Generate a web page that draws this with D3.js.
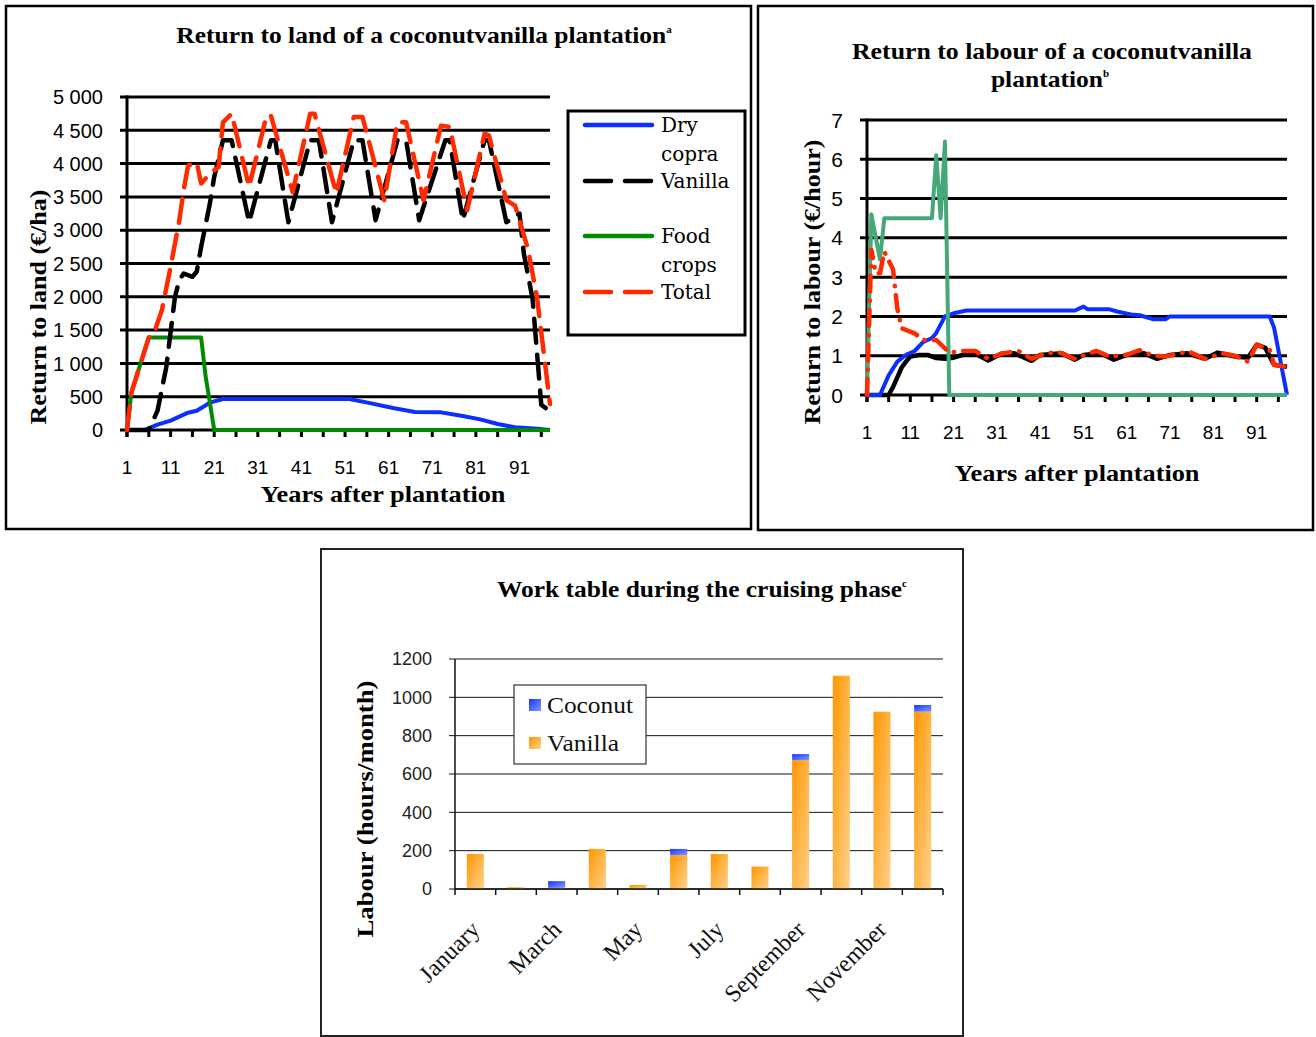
<!DOCTYPE html>
<html>
<head>
<meta charset="utf-8">
<script src="https://cdn.jsdelivr.net/npm/d3@7"></script>
<style>
  body { margin: 0; background: #fff; }
  svg { display: block; }
</style>
</head>
<body>
<svg id="fig"></svg>
<script>
// ---- Data ---------------------------------------------------------------
// Breakpoints of each series as [year after plantation, value]

// Return to land (EUR/ha)
const landCopra = [[1, 0], [5, 0], [8, 80], [11, 140], [15, 260], [17, 290], [20, 410], [23, 465],
  [52, 465], [57, 400], [62, 330], [67, 270], [73, 265], [78, 210], [82, 160], [86, 90],
  [90, 40], [95, 20], [98, 0]]
const landVanilla = [[1, 0], [6, 0], [8, 290], [10, 940], [12, 2000], [13, 2250], [14, 2350],
  [16, 2300], [17, 2380], [18, 2750], [20, 3400], [21, 3800], [23, 4350], [25, 4350], [29, 3120],
  [34, 4350], [35, 4350], [38, 3120], [43, 4350], [45, 4350], [48, 3120], [53, 4350], [55, 4350],
  [58, 3150], [63, 4350], [65, 4350], [68, 3150], [74, 4350], [75, 4350], [78, 3150], [83, 4350],
  [84, 4350], [88, 3120], [91, 3250], [92, 2650], [94, 1970], [96, 380], [97, 330]]
const landFood = [[1, 0], [2, 560], [6, 1390], [18, 1390], [19, 820], [21, 0], [98, 0]]
const landTotal = [[1, 0], [2, 560], [6, 1390], [7, 1420], [9, 1800], [11, 2450], [13, 3150],
  [14, 3600], [15, 3970], [17, 4020], [18, 3700], [20, 3850], [22, 3950], [23, 4620], [25, 4750],
  [29, 3650], [33, 4720], [34, 4720], [39, 3570], [43, 4750], [44, 4750], [49, 3550], [53, 4700],
  [55, 4700], [60, 3450], [63, 4620], [65, 4620], [69, 3450], [73, 4570], [75, 4550], [79, 3300],
  [83, 4450], [84, 4420], [88, 3450], [90, 3370], [93, 2700], [95, 2000], [98, 390]]

// Return to labour (EUR/hour)
const labourCopra = [[1, 0], [4, 0], [6, 0.5], [8, 0.85], [10, 1.02], [12, 1.12], [14, 1.35],
  [16, 1.45], [17, 1.58], [19, 2.0], [21, 2.08], [24, 2.15], [49, 2.15], [51, 2.25], [52, 2.18],
  [57, 2.18], [59, 2.12], [62, 2.05], [64, 2.03], [67, 1.93], [70, 1.93], [71, 2.0], [94, 2.0],
  [95, 1.72], [98, 0]]
const labourVanilla = [[1, 0], [6, 0], [7, 0.2], [8, 0.45], [9, 0.7], [10, 0.85], [11, 0.98],
  [13, 1.02], [15, 1.02], [17, 0.94], [19, 0.92], [21, 0.95], [24, 1.05], [26, 1.05], [29, 0.88],
  [32, 1.05], [35, 1.06], [39, 0.87], [41, 1.02], [46, 1.06], [49, 0.9], [51, 1.02], [55, 1.06],
  [58, 0.9], [61, 1.02], [65, 1.06], [68, 0.92], [71, 1.02], [75, 1.06], [79, 0.92], [82, 1.08],
  [86, 0.98], [89, 0.95], [91, 1.28], [93, 1.2], [95, 0.77], [98, 0.72]]
const labourFood = [[1, 0], [2, 4.6], [4, 3.45], [5, 4.5], [16, 4.5], [17, 6.1], [18, 4.5],
  [19, 6.45], [20, 0], [98, 0]]
const labourTotal = [[1, 0], [2, 3.7], [3, 3.1], [4, 3.1], [5, 3.65], [7, 3.2], [8, 2.2], [9, 1.7],
  [12, 1.57], [14, 1.4], [17, 1.4], [20, 1.08], [23, 1.12], [26, 1.12], [29, 0.92], [32, 1.05],
  [36, 1.12], [39, 0.92], [42, 1.05], [45, 1.1], [49, 0.92], [52, 1.05], [54, 1.12], [57, 0.98],
  [61, 1.02], [64, 1.14], [67, 1.0], [70, 0.98], [74, 1.08], [75, 1.12], [79, 0.92], [83, 1.06],
  [86, 1.0], [89, 0.85], [91, 1.28], [94, 1.15], [95, 0.77], [98, 0.72]]

// Work table (hours/month)
const months = ["January", "February", "March", "April", "May", "June", "July", "August",
  "September", "October", "November", "December"]
const vanillaHours = [183, 9, 6, 209, 21, 177, 183, 117, 673, 1113, 925, 925]
const coconutHours = [0, 0, 35, 0, 0, 32, 0, 0, 31, 0, 0, 35]

// Ticks
const landTicks = [0, 500, 1000, 1500, 2000, 2500, 3000, 3500, 4000, 4500, 5000]
const labourTicks = [0, 1, 2, 3, 4, 5, 6, 7]
const hoursTicks = [0, 200, 400, 600, 800, 1000, 1200]
const yearLabels = [1, 11, 21, 31, 41, 51, 61, 71, 81, 91]

// ---- Setup ----------------------------------------------------------------
const SERIF = "'Liberation Serif', 'Times New Roman', serif"
const SLAB = "'DejaVu Serif', serif"
const SANS = "'Liberation Sans', Arial, sans-serif"

const svg = d3.select("#fig")
  .attr("width", 1316)
  .attr("height", 1037)

const spaced = d3.formatLocale({ decimal: ".", thousands: " ", grouping: [3], currency: ["", ""] }).format(",")

// Panel frames
svg.append("rect").attr("x", 6).attr("y", 6).attr("width", 745).attr("height", 523)
  .attr("fill", "none").attr("stroke", "#000").attr("stroke-width", 2.5)
svg.append("rect").attr("x", 758).attr("y", 6).attr("width", 555).attr("height", 524)
  .attr("fill", "none").attr("stroke", "#000").attr("stroke-width", 2.5)
svg.append("rect").attr("x", 321).attr("y", 549).attr("width", 642).attr("height", 487)
  .attr("fill", "none").attr("stroke", "#222").attr("stroke-width", 2)

// ---- Line panels ----------------------------------------------------------
function linePanel({ left, right, top, bottom, yMax, ticks, tickFormat, labelFont, series }) {
  const x = d3.scaleLinear().domain([1, 98]).range([left, right])
  const y = d3.scaleLinear().domain([0, yMax]).range([bottom, top])
  const g = svg.append("g")

  g.append("g")
    .selectAll("line")
    .data(ticks)
    .join("line")
      .attr("x1", left - 7)
      .attr("x2", right)
      .attr("y1", d => y(d))
      .attr("y2", d => y(d))
      .attr("stroke", "#000")
      .attr("stroke-width", 3)

  g.append("line")
    .attr("x1", left).attr("x2", left)
    .attr("y1", y(yMax) - 1.5).attr("y2", bottom + 7)
    .attr("stroke", "#000").attr("stroke-width", 3)

  // Small tick every 5 years, label every 10
  g.append("g")
    .selectAll("line")
    .data(d3.range(1, 98, 5))
    .join("line")
      .attr("x1", d => x(d)).attr("x2", d => x(d))
      .attr("y1", bottom).attr("y2", bottom + 7)
      .attr("stroke", "#000").attr("stroke-width", 3)

  g.append("g")
    .selectAll("text")
    .data(ticks)
    .join("text")
      .attr("x", left - 24)
      .attr("y", d => y(d))
      .attr("dy", "0.36em")
      .attr("text-anchor", "end")
      .attr("font-family", SANS)
      .attr("font-size", labelFont)
      .text(tickFormat)

  g.append("g")
    .selectAll("text")
    .data(yearLabels)
    .join("text")
      .attr("x", d => x(d))
      .attr("y", bottom + 37)
      .attr("dy", "0.36em")
      .attr("text-anchor", "middle")
      .attr("font-family", SANS)
      .attr("font-size", 19)
      .text(d => d)

  const line = d3.line().x(d => x(d[0])).y(d => y(d[1]))
  series.forEach(s => {
    g.append("path")
      .datum(s.data)
      .attr("d", line)
      .attr("fill", "none")
      .attr("stroke", s.color)
      .attr("stroke-width", s.width || 4)
      .attr("stroke-dasharray", s.dash || null)
      .attr("stroke-linecap", s.dash ? "round" : "butt")
      .attr("stroke-linejoin", "round")
  })
  return g
}

linePanel({
  left: 127, right: 550, top: 97, bottom: 430,
  yMax: 5000, ticks: landTicks, tickFormat: spaced, labelFont: 20,
  series: [
    { data: landCopra, color: "#0a2fff" },
    { data: landFood, color: "#008a00" },
    { data: landVanilla, color: "#000", dash: "24,12", width: 4.5 },
    { data: landTotal, color: "#ff2a00", dash: "24,12", width: 4.5 }
  ]
})

linePanel({
  left: 867, right: 1287, top: 120, bottom: 395,
  yMax: 7, ticks: labourTicks, tickFormat: d => d, labelFont: 21,
  series: [
    { data: labourVanilla, color: "#000", width: 4.5 },
    { data: labourCopra, color: "#0a2fff" },
    { data: labourFood, color: "#45a878" },
    { data: labourTotal, color: "#ff2a00", dash: "16,9,0.5,9", width: 4.5 }
  ]
})

// Titles and axis titles; widths stretched to the wider original face
function boldText(x, y, txt, size, len, rotate) {
  const t = svg.append("text")
    .attr("font-family", SERIF)
    .attr("font-weight", "bold")
    .attr("font-size", size)
    .attr("text-anchor", "middle")
  if (rotate) t.attr("transform", `translate(${x},${y}) rotate(-90)`)
  else t.attr("x", x).attr("y", y)
  const main = t.append("tspan").text(txt)
  if (len) main.attr("textLength", len).attr("lengthAdjust", "spacingAndGlyphs")
  return t
}
function sup(t, s) {
  t.append("tspan").attr("font-size", 11).attr("dy", -10).text(s)
}

sup(boldText(424, 43, "Return to land of a coconutvanilla plantation", 23, 490), "a")
boldText(383, 502, "Years after plantation", 23, 245)
boldText(46, 307, "Return to land (€/ha)", 23, 235, true)

boldText(1052, 59, "Return to labour of a coconutvanilla", 23, 400)
sup(boldText(1050, 87, "plantation", 23, 112), "b")
boldText(1077, 481, "Years after plantation", 23, 245)
boldText(820, 282, "Return to labour (€/hour)", 23, 285, true)

// Legend of the land panel
const legend = svg.append("g")
legend.append("rect").attr("x", 568).attr("y", 111).attr("width", 177).attr("height", 224)
  .attr("fill", "#fff").attr("stroke", "#000").attr("stroke-width", 3)
const legendItems = [
  { lines: ["Dry", "copra"], color: "#0a2fff", y: 125 },
  { lines: ["Vanilla"], color: "#000", dash: "26,14", y: 181 },
  { lines: ["Food", "crops"], color: "#008a00", y: 236 },
  { lines: ["Total"], color: "#ff2a00", dash: "26,14", y: 292 }
]
legendItems.forEach(it => {
  legend.append("line")
    .attr("x1", 585).attr("x2", 652).attr("y1", it.y).attr("y2", it.y)
    .attr("stroke", it.color).attr("stroke-width", 4.5)
    .attr("stroke-linecap", "round")
    .attr("stroke-dasharray", it.dash || null)
  it.lines.forEach((l, i) => {
    legend.append("text")
      .attr("x", 661).attr("y", it.y + 7 + i * 29)
      .attr("font-family", SLAB)
      .attr("font-size", 20)
      .text(l)
  })
})

// ---- Work table bar chart -------------------------------------------------
const defs = svg.append("defs")
function grad(id, c0, c1) {
  const lg = defs.append("linearGradient").attr("id", id)
    .attr("x1", 0).attr("y1", 0).attr("x2", 1).attr("y2", 1)
  lg.append("stop").attr("offset", "0%").attr("stop-color", c0)
  lg.append("stop").attr("offset", "100%").attr("stop-color", c1)
}
grad("gVanilla", "#ff9600", "#ffd28c")
grad("gCoconut", "#1a35ff", "#7f98ff")

const table = months.map((m, i) => ({ month: m, Vanilla: vanillaHours[i], Coconut: coconutHours[i] }))
const stacked = d3.stack().keys(["Vanilla", "Coconut"])(table)

const xb = d3.scaleBand().domain(months).range([455, 943]).paddingInner(0.58).paddingOuter(0.29)
const yb = d3.scaleLinear().domain([0, 1200]).range([889, 659])
const bars = svg.append("g")

bars.append("g")
  .selectAll("line")
  .data(hoursTicks)
  .join("line")
    .attr("x1", 449).attr("x2", 943)
    .attr("y1", d => yb(d)).attr("y2", d => yb(d))
    .attr("stroke", "#111").attr("stroke-width", 1)

bars.append("g")
  .selectAll("text")
  .data(hoursTicks)
  .join("text")
    .attr("x", 432)
    .attr("y", d => yb(d))
    .attr("dy", "0.36em")
    .attr("text-anchor", "end")
    .attr("font-family", SANS)
    .attr("font-size", 18)
    .attr("fill", "#222")
    .text(d => d)

bars.append("g")
  .selectAll("g")
  .data(stacked)
  .join("g")
    .attr("fill", d => d.key === "Vanilla" ? "url(#gVanilla)" : "url(#gCoconut)")
  .selectAll("rect")
  .data(d => d)
  .join("rect")
    .attr("x", d => xb(d.data.month))
    .attr("width", xb.bandwidth())
    .attr("y", d => yb(d[1]))
    .attr("height", d => yb(d[0]) - yb(d[1]))

// Axis lines and category boundary ticks
bars.append("line").attr("x1", 455).attr("x2", 455).attr("y1", yb(1200)).attr("y2", yb(0))
  .attr("stroke", "#111").attr("stroke-width", 1.5)
bars.append("line").attr("x1", 455).attr("x2", 943).attr("y1", yb(0)).attr("y2", yb(0))
  .attr("stroke", "#111").attr("stroke-width", 1.5)
bars.append("g")
  .selectAll("line")
  .data(d3.range(months.length + 1))
  .join("line")
    .attr("x1", i => xb.range()[0] + i * xb.step())
    .attr("x2", i => xb.range()[0] + i * xb.step())
    .attr("y1", yb(0)).attr("y2", yb(0) + 6)
    .attr("stroke", "#111").attr("stroke-width", 1.5)

// Every other month label, rotated
bars.append("g")
  .selectAll("text")
  .data(months.filter((m, i) => i % 2 === 0))
  .join("text")
    .attr("transform", d => `translate(${xb(d) + xb.bandwidth() / 2 + 6},${yb(0) + 42}) rotate(-45)`)
    .attr("text-anchor", "end")
    .attr("font-family", SERIF)
    .attr("font-size", 24)
    .attr("fill", "#111")
    .text(d => d)

// Legend
const bl = bars.append("g")
bl.append("rect").attr("x", 514).attr("y", 685).attr("width", 132).attr("height", 79)
  .attr("fill", "#fff").attr("stroke", "#333").attr("stroke-width", 1.2)
;[["Coconut", "url(#gCoconut)", 699, 86], ["Vanilla", "url(#gVanilla)", 737, 72]].forEach(([name, fill, y, len]) => {
  bl.append("rect").attr("x", 529).attr("y", y).attr("width", 12).attr("height", 12).attr("fill", fill)
  bl.append("text").attr("x", 547).attr("y", y + 14)
    .attr("font-family", SERIF).attr("font-size", 23).attr("fill", "#111")
    .attr("textLength", len).attr("lengthAdjust", "spacingAndGlyphs")
    .text(name)
})

sup(boldText(702, 597, "Work table during the cruising phase", 23, 405), "c")
boldText(373, 809, "Labour (hours/month)", 23, 257, true)
</script>
</body>
</html>
